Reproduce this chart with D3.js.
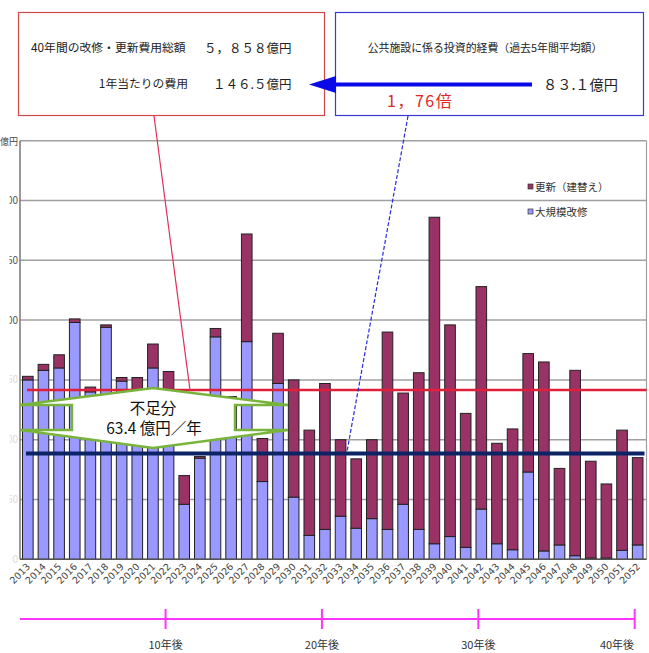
<!DOCTYPE html>
<html><head><meta charset="utf-8">
<script src="https://cdn.jsdelivr.net/npm/d3@7"></script>
<style>
html,body{margin:0;padding:0;background:#fff;}
svg{display:block;font-family:"Noto Sans CJK JP","Noto Sans",sans-serif;}
</style></head>
<body>
<svg id="c" width="649" height="653"></svg>
<script>
// ---- data ----
const years = ["2013","2014","2015","2016","2017","2018","2019","2020","2021","2022",
  "2023","2024","2025","2026","2027","2028","2029","2030","2031","2032",
  "2033","2034","2035","2036","2037","2038","2039","2040","2041","2042",
  "2043","2044","2045","2046","2047","2048","2049","2050","2051","2052"];
// 大規模改修 (億円)
const majorRepair = [150,158,160,198,140,194,149,142,160,142,
  46,84.5,186,134.5,182,65,147,52,20,25,
  36,26,34,25,46,25,13,19,10,42,
  13,8,73,7,12,3,1,1,7.5,12];
// 更新（建替え） (億円)
const renewal = [3,5,11,3,4,2,3,10,20,15,
  24,1.5,7,1.5,90,36,42,98,88,122,
  64,58,66,165,93,131,273,177,112,186,
  84,101,99,158,64,155,81,62,100.5,73];
const yTicks = [0,50,100,150,200,250,300,350];
const seriesNames = ["更新（建替え）","大規模改修"];
const refLines = [141.5, 88.5];            // lines drawn in the picture (146.5 / 83.1 avg)
const milestones = [["2022","10年後"],["2032","20年後"],["2042","30年後"],["2052","40年後"]];

// ---- drawing ----
const svg = d3.select("#c");
const L = 20, R = 646.5, T = 140.7, B = 559.3;
const x = d3.scaleBand().domain(years).range([L, R - 1]).paddingInner(0.32).paddingOuter(0.16);
const y = d3.scaleLinear().domain([0, 350]).range([B, T]);

const cPurple = "#993366", cBlue = "#9999ff";

// gridlines
svg.append("g").selectAll("line").data(yTicks).join("line")
  .attr("x1", L).attr("x2", R).attr("y1", d => y(d)).attr("y2", d => y(d))
  .attr("stroke", "#a0a0a0").attr("stroke-width", 1.5);
svg.append("line").attr("x1", R).attr("x2", R).attr("y1", T).attr("y2", B)
  .attr("stroke", "#a0a0a0").attr("stroke-width", 1.2);

// y labels (image is cropped at the left)
svg.append("clipPath").attr("id", "yclip").append("rect")
  .attr("x", 9.5).attr("y", 0).attr("width", 20).attr("height", 653);
const yl = svg.append("g").attr("clip-path", "url(#yclip)");
yl.selectAll("text").data(yTicks.filter(d => d < 350)).join("text")
  .attr("x", 18).attr("y", d => y(d) + 3.5).attr("text-anchor", "end")
  .attr("font-size", 10).attr("fill", d => d >= 200 ? "#555" : "#dcdcdc")
  .text(d => d);
svg.append("text").attr("x", 0).attr("y", y(350) + 4).attr("text-anchor", "start")
  .attr("font-size", 9).attr("fill", "#444").text("億円");

// stacked bars
const rows = years.map((yr, i) => ({year: yr, major: majorRepair[i], renewal: renewal[i]}));
const stack = d3.stack().keys(["major", "renewal"])(rows);
const colors = {major: cBlue, renewal: cPurple};
svg.append("g").selectAll("g").data(stack).join("g")
  .attr("fill", d => colors[d.key])
  .selectAll("rect").data(d => d).join("rect")
  .attr("x", d => x(d.data.year)).attr("width", x.bandwidth())
  .attr("y", d => y(d[1])).attr("height", d => Math.max(0, y(d[0]) - y(d[1])))
  .attr("stroke", "#222").attr("stroke-width", 1);

// axes lines
svg.append("line").attr("x1", L).attr("x2", L).attr("y1", T).attr("y2", B)
  .attr("stroke", "#777").attr("stroke-width", 1.5);
svg.append("line").attr("x1", L).attr("x2", R).attr("y1", B).attr("y2", B)
  .attr("stroke", "#555").attr("stroke-width", 1.5);

// year labels
svg.append("g").selectAll("text").data(years).join("text")
  .attr("transform", d => `translate(${x(d) + x.bandwidth() / 2 + 3},${B + 8}) rotate(-45)`)
  .attr("text-anchor", "end").attr("font-size", 9.5).attr("fill", "#444")
  .attr("font-family", "DejaVu Sans, sans-serif")
  .text(d => d);

// legend
const lg = svg.append("g");
[[seriesNames[0], cPurple, 187], [seriesNames[1], cBlue, 212]].forEach(([t, c, yy]) => {
  lg.append("rect").attr("x", 528).attr("y", yy - 3).attr("width", 5).attr("height", 5)
    .attr("fill", c).attr("stroke", "#333").attr("stroke-width", 0.7);
  lg.append("text").attr("x", 535).attr("y", yy + 3.5).attr("font-size", 10.5)
    .attr("fill", "#333").text(t);
});

// reference lines
svg.append("line").attr("x1", 27).attr("x2", R).attr("y1", y(refLines[0])).attr("y2", y(refLines[0]))
  .attr("stroke", "#e0203a").attr("stroke-width", 2.5);
svg.append("line").attr("x1", 26).attr("x2", R - 2).attr("y1", y(refLines[1])).attr("y2", y(refLines[1]))
  .attr("stroke", "#0c2466").attr("stroke-width", 4);

// connector lines
svg.append("line").attr("x1", 154).attr("y1", 116).attr("x2", 190).attr("y2", y(refLines[0]))
  .attr("stroke", "#e0305a").attr("stroke-width", 1.2);
svg.append("line").attr("x1", 408).attr("y1", 116).attr("x2", 347).attr("y2", y(refLines[1]) - 2)
  .attr("stroke", "#2a2ae0").attr("stroke-width", 1.2).attr("stroke-dasharray", "4,2");

// green callout
const g = "#78b43c";
const poly = [[20,405],[153,388],[288,405],[235,405],[235,430],[288,430],[153,448],[20,430],[72,430],[72,405]];
svg.append("path").attr("d", "M" + poly.map(p => p.join(",")).join("L") + "Z")
  .attr("fill", "#fff").attr("stroke", g).attr("stroke-width", 2.5).attr("stroke-linejoin", "miter");
svg.append("text").attr("x", 153).attr("y", 414).attr("text-anchor", "middle")
  .attr("font-size", 15.5).attr("fill", "#111").text("不足分");
svg.append("text").attr("x", 154).attr("y", 434).attr("text-anchor", "middle")
  .attr("font-size", 15.5).attr("fill", "#111").text("63.4 億円／年");

// top boxes
svg.append("rect").attr("x", 18.5).attr("y", 12.5).attr("width", 306).attr("height", 103)
  .attr("fill", "#fff").attr("stroke", "#d04848").attr("stroke-width", 1.2);
svg.append("rect").attr("x", 335.5).attr("y", 12.5).attr("width", 308).attr("height", 103)
  .attr("fill", "#fff").attr("stroke", "#3a3ad0").attr("stroke-width", 1.2);

svg.append("text").attr("x", 31).attr("y", 52).attr("font-size", 11.8).attr("fill", "#222")
  .text("40年間の改修・更新費用総額");
svg.append("text").attr("x", 204).attr("y", 53).attr("font-size", 12.5).attr("fill", "#222")
  .text("５，８５８億円");
svg.append("text").attr("x", 188).attr("y", 88).attr("text-anchor", "end").attr("font-size", 11.8)
  .attr("fill", "#222").text("1年当たりの費用");
svg.append("text").attr("x", 213).attr("y", 89).attr("font-size", 12.5).attr("fill", "#222")
  .text("１４６.５億円");

svg.append("text").attr("x", 485).attr("y", 52).attr("text-anchor", "middle").attr("font-size", 10.9)
  .attr("fill", "#222").text("公共施設に係る投資的経費（過去5年間平均額）");
svg.append("text").attr("x", 543).attr("y", 90).attr("font-size", 14.2).attr("fill", "#222")
  .text("８３.１億円");
svg.append("text").attr("x", 387).attr("y", 107).attr("font-size", 16).attr("letter-spacing", 1.5)
  .attr("fill", "#e02424").text("1，76倍");

// blue arrow
svg.append("line").attr("x1", 532).attr("y1", 84.5).attr("x2", 330).attr("y2", 84.5)
  .attr("stroke", "#0a0ae8").attr("stroke-width", 4);
svg.append("path").attr("d", "M309,84.5L336,76L336,93Z").attr("fill", "#0a0ae8");

// timeline
const tl = "#ff33ff";
const tx = d => x(d) + x.bandwidth() / 2 - 3;
svg.append("line").attr("x1", L).attr("x2", tx("2052")).attr("y1", 619).attr("y2", 619)
  .attr("stroke", tl).attr("stroke-width", 2);
svg.append("g").selectAll("line").data(milestones).join("line")
  .attr("x1", d => tx(d[0])).attr("x2", d => tx(d[0])).attr("y1", 609).attr("y2", 629)
  .attr("stroke", tl).attr("stroke-width", 2);
svg.append("g").selectAll("text").data(milestones).join("text")
  .attr("x", d => Math.min(tx(d[0]), 617)).attr("y", 649).attr("text-anchor", "middle")
  .attr("font-size", 11).attr("fill", "#333").text(d => d[1]);
</script>
</body></html>
